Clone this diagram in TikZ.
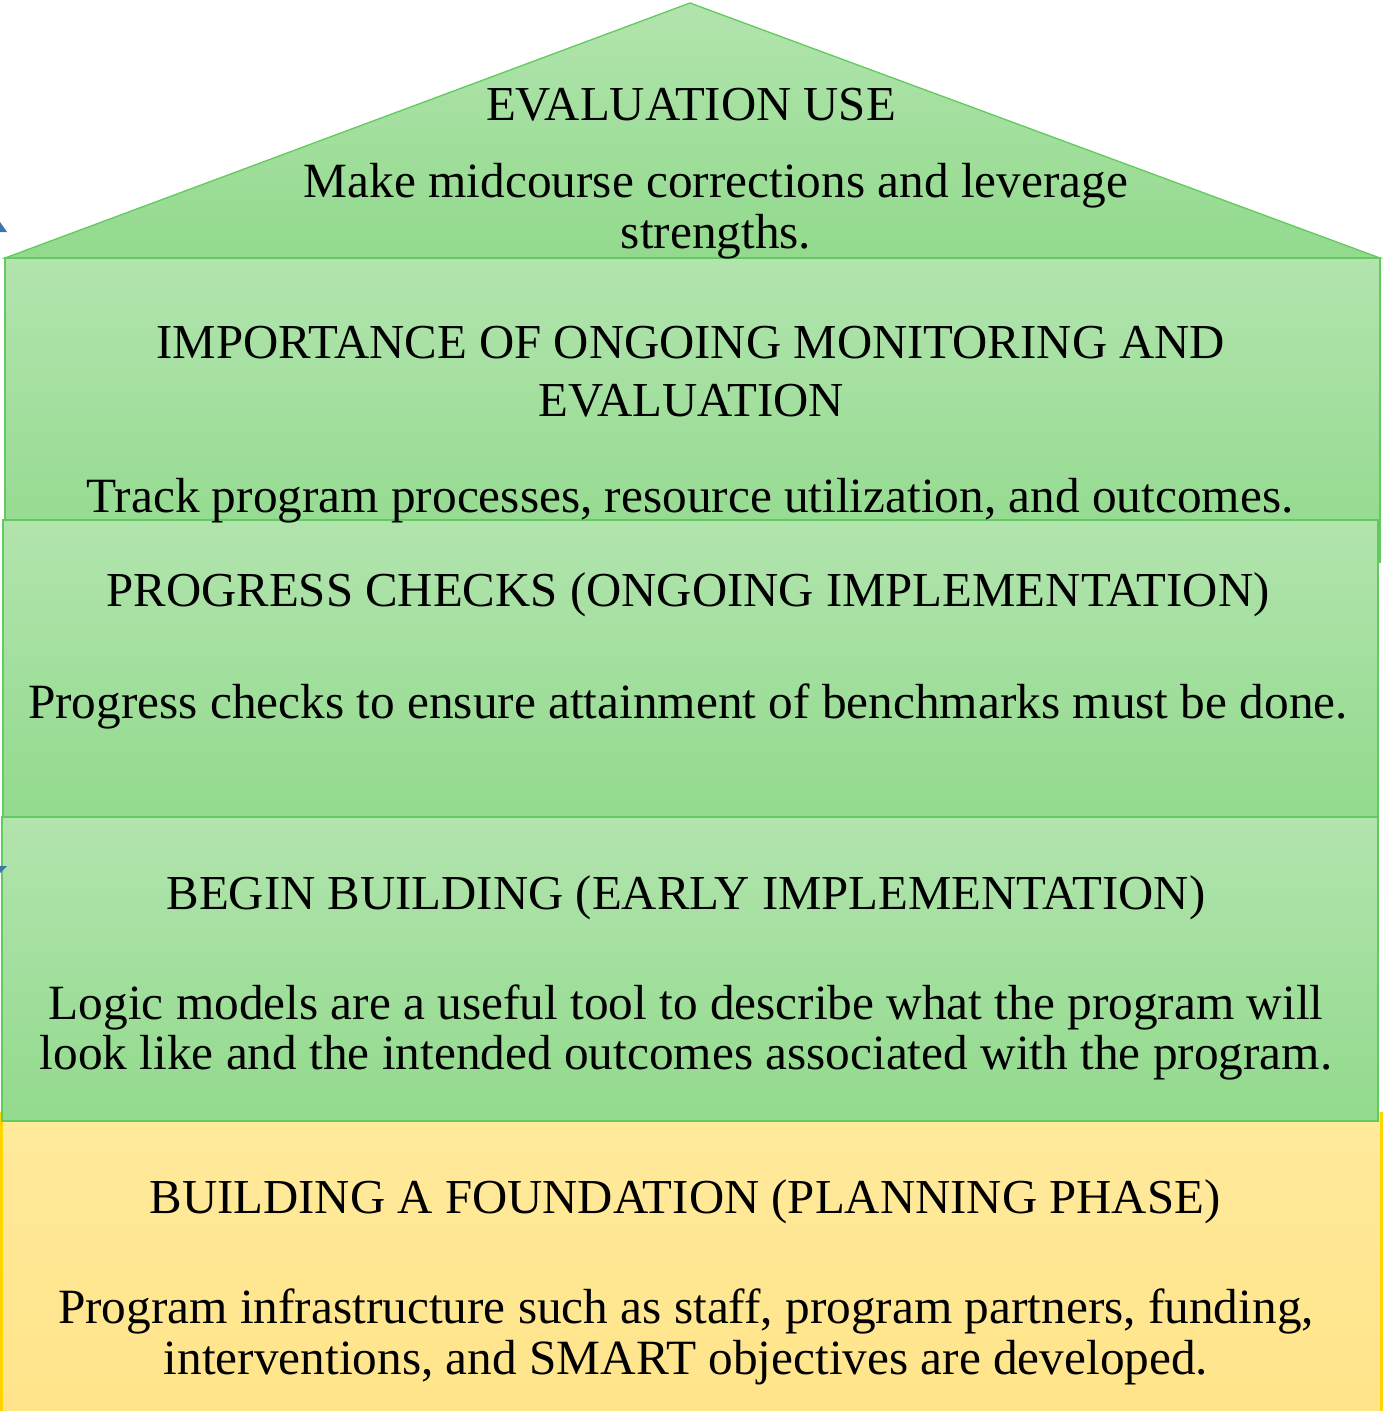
\documentclass[tikz,border=0pt]{standalone}
\usepackage{fontspec}
\setmainfont{Liberation Serif}
\definecolor{greentop}{HTML}{B2E4AE}
\definecolor{greenbot}{HTML}{92DA8D}
\definecolor{greenline}{HTML}{62CA5E}
\definecolor{yellowtop}{HTML}{FFEA9C}
\definecolor{yellowbot}{HTML}{FFE48A}
\definecolor{yellowline}{HTML}{FFD400}
\definecolor{arrowblue}{HTML}{3C76A8}
\tikzset{
  storey/.style={top color=greentop, bottom color=greenbot, draw=greenline, line width=1.6pt},
  base/.style={top color=yellowtop, bottom color=yellowbot, draw=none},
  heading/.style={anchor=base, inner sep=0pt, font=\fontsize{48.8}{56}\selectfont},
  body/.style={anchor=base, inner sep=0pt, font=\fontsize{49.3}{58}\selectfont},
}
\begin{document}
\begin{tikzpicture}[x=1pt,y=-1pt]
\useasboundingbox (0,0) rectangle (1383,1411);
\fill[white] (0,0) rectangle (1383,1411);

% foundation slab
\shade[base] (0,1112) rectangle (1383,1411);
\fill[yellowline] (0,1112) rectangle (2.5,1411);
\fill[yellowline] (1379.5,1112) rectangle (1383,1411);

% roof
\shade[storey, line width=1.3pt] (5,258) -- (690,3) -- (1380,258) -- cycle;

% storeys, drawn bottom-up in overlap order
\shade[storey] (5,258) rectangle (1380,562);
\shade[storey] (3,520) rectangle (1378,818);
\shade[storey] (2,817) rectangle (1378,1121);

% stray arrow tips at the left edge
\fill[arrowblue] (0,222) -- (7,232) -- (0,232) -- cycle;
\fill[arrowblue] (0,866) -- (7,866) -- (0,873) -- cycle;

% roof text
\node[heading] (useT) at (691,120) {EVALUATION USE};
\node[body] (useB1) at (716,197) {Make midcourse corrections and leverage};
\node[body] (useB2) at (716,248) {strengths.};

% monitoring storey
\node[heading] (monT1) at (691,358) {IMPORTANCE OF ONGOING MONITORING AND};
\node[heading] (monT2) at (691,416) {EVALUATION};
\node[body] (monB) at (690,512) {Track program processes, resource utilization, and outcomes.};

% progress storey
\node[heading] (proT) at (688,606) {PROGRESS CHECKS (ONGOING IMPLEMENTATION)};
\node[body] (proB) at (688,718) {Progress checks to ensure attainment of benchmarks must be done.};

% early implementation storey
\node[heading] (begT) at (686,909) {BEGIN BUILDING (EARLY IMPLEMENTATION)};
\node[body] (begB1) at (686,1019) {Logic models are a useful tool to describe what the program will};
\node[body] (begB2) at (686,1069) {look like and the intended outcomes associated with the program.};

% foundation text
\node[heading] (fndT) at (685,1213) {BUILDING A FOUNDATION (PLANNING PHASE)};
\node[body] (fndB1) at (686,1323) {Program infrastructure such as staff, program partners, funding,};
\node[body] (fndB2) at (686,1374) {interventions, and SMART objectives are developed.};
\end{tikzpicture}
\end{document}
